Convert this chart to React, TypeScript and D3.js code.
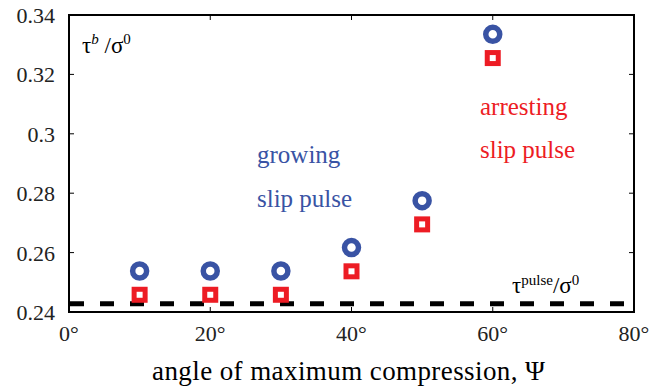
import React from "react";
import * as d3 from "d3";

const angles = [10, 20, 30, 40, 50, 60];
const growing = [0.2538, 0.2538, 0.2538, 0.2617, 0.2775, 0.3335];
const arresting = [0.2458, 0.2458, 0.2458, 0.2537, 0.2695, 0.3255];
const pulseLevel = 0.2428;
const xTicks = [0, 20, 40, 60, 80];
const yTicks = [0.24, 0.26, 0.28, 0.3, 0.32, 0.34];
const yTickLabels = ["0.24", "0.26", "0.28", "0.3", "0.32", "0.34"];

const BLUE = "#3953a4";
const RED = "#ed1c24";
const FONT = '"Liberation Serif", "DejaVu Serif", serif';

export default function App() {
  const W = 661, H = 387;
  const x = d3.scaleLinear().domain([0, 80]).range([69, 634]);
  const y = d3.scaleLinear().domain([0.24, 0.34]).range([312, 15]);
  const [x0, x1] = x.range();
  const [yb, yt] = y.range();
  const tl = 5;
  return (
    <svg width={W} height={H} style={{ position: "absolute", left: 0, top: 0, background: "#fff", fontFamily: FONT }}>
      <line x1={x0 + 1} x2={x1} y1={y(pulseLevel)} y2={y(pulseLevel)} stroke="#000" strokeWidth={5} strokeDasharray="14 16" />
      {xTicks.slice(1, -1).map((t) => (
        <g key={"xt" + t}>
          <line x1={x(t)} x2={x(t)} y1={yb} y2={yb - tl} stroke="#000" strokeWidth={1} />
          <line x1={x(t)} x2={x(t)} y1={yt} y2={yt + tl} stroke="#000" strokeWidth={1} />
        </g>
      ))}
      {yTicks.slice(1, -1).map((t) => (
        <g key={"yt" + t}>
          <line x1={x0} x2={x0 + tl} y1={y(t)} y2={y(t)} stroke="#000" strokeWidth={1} />
          <line x1={x1} x2={x1 - tl} y1={y(t)} y2={y(t)} stroke="#000" strokeWidth={1} />
        </g>
      ))}
      <rect x={x0} y={yt} width={x1 - x0} height={yb - yt} fill="none" stroke="#000" strokeWidth={2} />
      {xTicks.map((t) => (
        <text key={"xl" + t} x={x(t)} y={341} textAnchor="middle" fontSize={22} fill="#222">{t}°</text>
      ))}
      {yTicks.map((t, i) => (
        <text key={"yl" + t} x={55} y={y(t) + 8} textAnchor="end" fontSize={22} fill="#222">{yTickLabels[i]}</text>
      ))}
      {angles.map((a, i) => (
        <rect key={"s" + a} x={x(a) - 5.5} y={y(arresting[i]) - 5.5} width={11} height={11} fill="none" stroke={RED} strokeWidth={5} />
      ))}
      {angles.map((a, i) => (
        <circle key={"c" + a} cx={x(a)} cy={y(growing[i])} r={7} fill="none" stroke={BLUE} strokeWidth={5.5} />
      ))}
      <text x={82} y={53} fontSize={23} fill="#000">
        τ<tspan fontSize={15} dy={-9} fontStyle="italic">b</tspan>
        <tspan dy={9}> /σ</tspan>
        <tspan fontSize={15} dy={-9}>0</tspan>
      </text>
      <text x={257} y={163} fontSize={25} fill={BLUE}>growing</text>
      <text x={257} y={207} fontSize={25} fill={BLUE}>slip pulse</text>
      <text x={480} y={115} fontSize={25} fill={RED}>arresting</text>
      <text x={480} y={158} fontSize={25} fill={RED}>slip pulse</text>
      <text x={512} y={293} fontSize={23} fill="#000">
        τ<tspan fontSize={15} dy={-8}>pulse</tspan>
        <tspan dy={8}>/σ</tspan>
        <tspan fontSize={15} dy={-8}>0</tspan>
      </text>
      <text x={152} y={380} fontSize={27} fill="#000" textLength={393} lengthAdjust="spacing">angle of maximum compression, Ψ</text>
    </svg>
  );
}
